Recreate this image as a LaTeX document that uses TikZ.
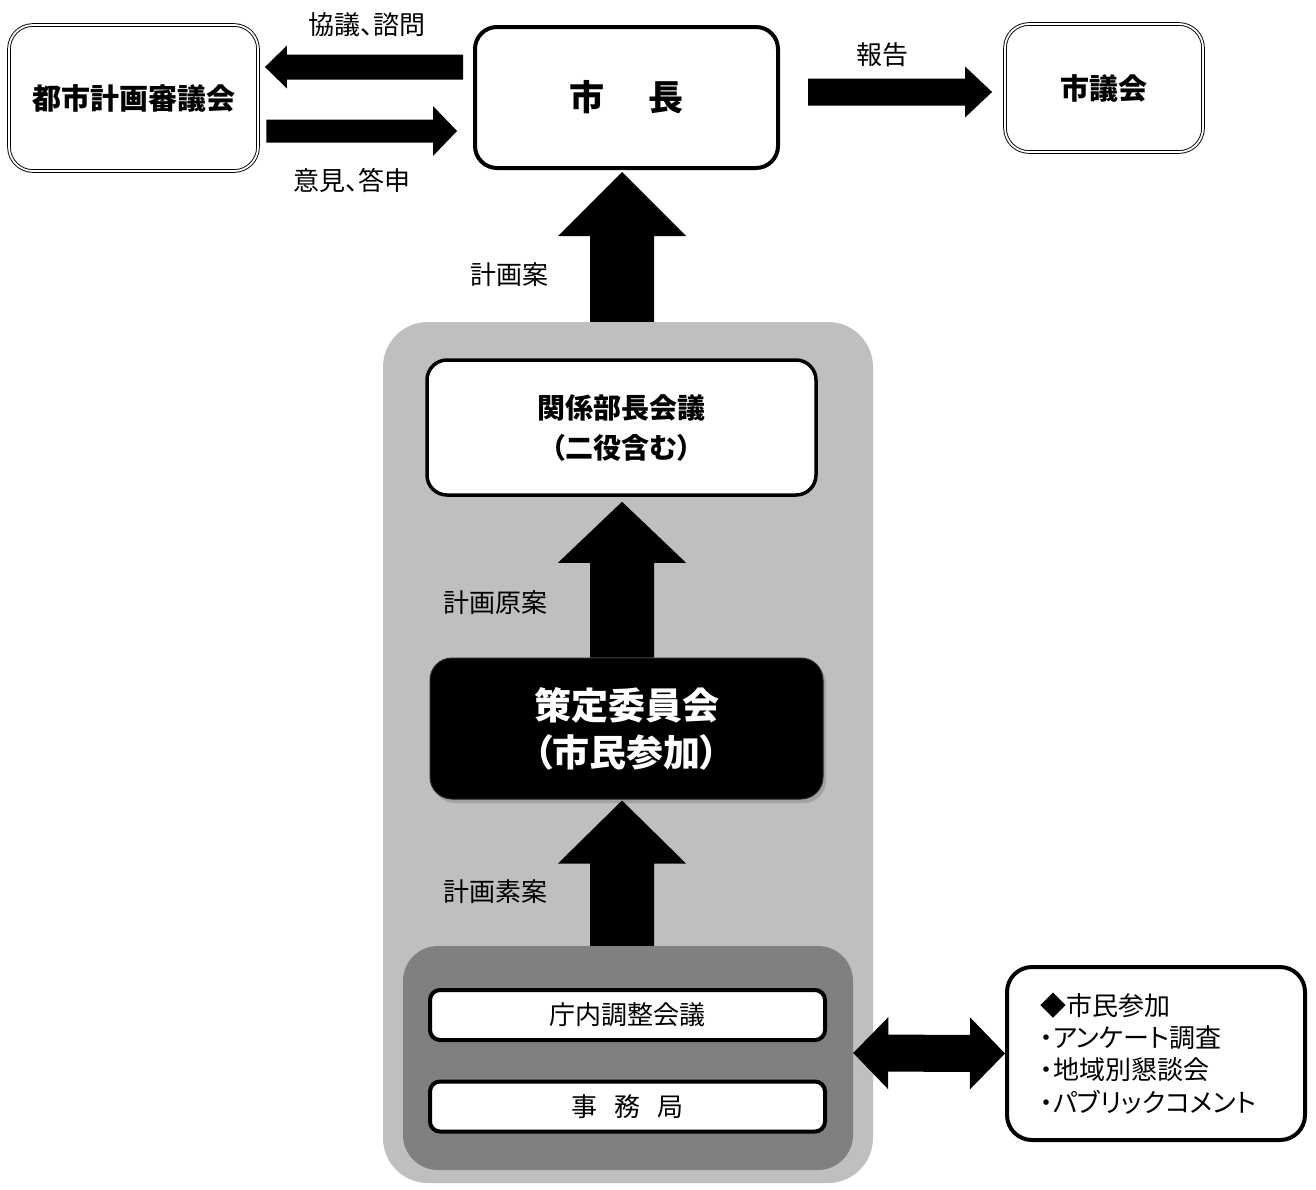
\documentclass[tikz,border=0pt]{standalone}
\usepackage{fontspec}
\setmainfont{Noto Sans CJK JP}[CharacterWidth=AlternateProportional]
\usetikzlibrary{calc,shadows}
\definecolor{lightg}{HTML}{BFBFBF}
\definecolor{darkg}{HTML}{808080}
\newcommand\blockarr[5]{%
  \coordinate (ba-t) at (#1);
  \coordinate (ba-h) at (#2);
  \coordinate (ba-b) at ($(ba-h)!#4!(ba-t)$);
  \fill[black] ($(ba-t)!#3!90:(ba-h)$) -- ($(ba-b)!#3!90:(ba-h)$) -- ($(ba-b)!#5!90:(ba-h)$) -- (ba-h)
    -- ($(ba-b)!#5!-90:(ba-h)$) -- ($(ba-b)!#3!-90:(ba-h)$) -- ($(ba-t)!#3!-90:(ba-h)$) -- cycle;
}
\newcommand\dblarr[5]{%
  \coordinate (da-l) at (#1);
  \coordinate (da-r) at (#2);
  \coordinate (da-bl) at ($(da-l)!#4!(da-r)$);
  \coordinate (da-br) at ($(da-r)!#4!(da-l)$);
  \fill[black] (da-l) -- ($(da-bl)!#5!90:(da-r)$) -- ($(da-bl)!#3!90:(da-r)$) -- ($(da-br)!#3!-90:(da-l)$)
    -- ($(da-br)!#5!-90:(da-l)$) -- (da-r) -- ($(da-br)!#5!90:(da-l)$) -- ($(da-br)!#3!90:(da-l)$)
    -- ($(da-bl)!#3!-90:(da-r)$) -- ($(da-bl)!#5!-90:(da-r)$) -- cycle;
}
\tikzset{
  dbox/.style={draw=black, line width=0.9pt, double=white, double distance=1.8pt,
    rounded corners=24pt, inner sep=0pt, font=\fontsize{29}{34}\selectfont\bfseries},
  tbox/.style={draw=black, line width=4pt, fill=white, rounded corners=22pt, inner sep=0pt},
  slim/.style={draw=black, line width=4pt, fill=white, rounded corners=10pt, inner sep=0pt,
    minimum width=395pt, minimum height=50pt, font=\fontsize{26}{30}\selectfont},
  lab/.style={inner sep=0pt, font=\fontsize{26}{30}\selectfont},
}
\begin{document}
\begin{tikzpicture}[x=1pt,y=-1pt]
\useasboundingbox[fill=white] (0,0) rectangle (1316,1189);
% background panels
\node[fill=lightg, rounded corners=45pt, minimum width=490pt, minimum height=861pt, inner sep=0pt] (light) at (628,752.5) {};
\node[fill=darkg, rounded corners=35pt, minimum width=450pt, minimum height=224pt, inner sep=0pt] (dark) at (628,1058) {};
% boxes
\node[dbox, minimum width=249pt, minimum height=146pt] (council) at (133.5,98) {都市計画審議会};
\node[tbox, minimum width=303pt, minimum height=141pt, font=\fontsize{35}{40}\selectfont\bfseries] (mayor) at (626.5,97.5) {市\hspace{45pt}長};
\node[dbox, minimum width=198pt, minimum height=128pt] (gikai) at (1104,88) {市議会};
\node[tbox, line width=3.5pt, rounded corners=20pt, minimum width=389pt, minimum height=135pt, align=center,
  font=\fontsize{28}{40}\selectfont\bfseries] (bucho) at (621.5,427.5) {関係部長会議\\（二役含む）};
\node[fill=black, draw=black!85, line width=1pt, rounded corners=22pt, minimum width=393pt, minimum height=141pt, inner sep=0pt,
  text=white, align=center, font=\fontsize{37}{47}\selectfont\bfseries,
  drop shadow={opacity=0.45, shadow xshift=3pt, shadow yshift=-4pt}] (saku) at (626.5,728.5) {策定委員会\\（市民参加）};
\node[slim] (chonai) at (627.5,1015) {庁内調整会議};
\node[slim] (jimu) at (627.5,1106.5) {事\hspace{17pt}務\hspace{17pt}局};
\node[tbox, rounded corners=25pt, minimum width=298pt, minimum height=173pt, inner xsep=33pt, text width=232pt,
  align=left, font=\fontsize{26}{32.3}\selectfont] (shimin) at (1156,1053.5)
  {◆市民参加\\・アンケート調査\\・地域別懇談会\\・パブリックコメント};
% labels
\node[lab] (l1) at (367,25) {協議、諮問};
\node[lab] (l2) at (352,180) {意見、答申};
\node[lab] (l3) at (882,55) {報告};
\node[lab] (l4) at (509,275) {計画案};
\node[lab] (l5) at (495,603) {計画原案};
\node[lab] (l6) at (495,892) {計画素案};
% arrows
\blockarr{[xshift=-10pt,yshift=30.5pt]mayor.west}{[xshift=6.5pt,yshift=31pt]council.east}{12.5pt}{22pt}{21.5pt}
\blockarr{[xshift=8pt,yshift=-33pt]council.east}{[xshift=-16pt,yshift=-33.5pt]mayor.west}{11.5pt}{24pt}{25pt}
\blockarr{[xshift=28pt,yshift=5.5pt]mayor.east}{[xshift=-12.5pt,yshift=-4pt]gikai.west}{13.5pt}{27pt}{25.5pt}
\blockarr{[xshift=-6pt]light.north}{[xshift=-4.5pt,yshift=-2pt]mayor.south}{32pt}{64pt}{64pt}
\blockarr{[xshift=-4.5pt]saku.north}{[xshift=0.5pt,yshift=-5pt]bucho.south}{32pt}{61pt}{64pt}
\blockarr{[xshift=-6pt]dark.north}{[xshift=-4.5pt,yshift=-1pt]saku.south}{32pt}{63pt}{64pt}
\dblarr{[yshift=5pt]dark.east}{shimin.west}{18.5pt}{35pt}{36pt}
\end{tikzpicture}
\end{document}
